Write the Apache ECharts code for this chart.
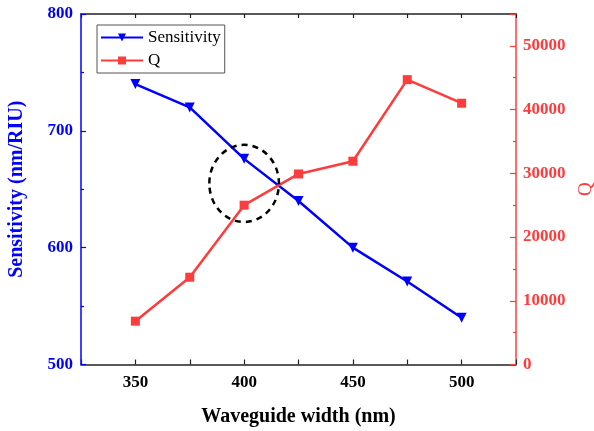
<!DOCTYPE html>
<html><head><meta charset="utf-8">
<script src="https://cdn.jsdelivr.net/npm/echarts@6/dist/echarts.min.js"></script>
<style>html,body{margin:0;padding:0;background:#fff}#c{width:594px;height:431px}</style>
</head><body><div id="c"></div>
<script>
const widths = [350, 375, 400, 425, 450, 475, 500];
const sensitivity = [740, 720, 676, 640, 600, 571, 540];
const qValues = [6800, 13700, 25000, 29900, 31900, 44700, 41000];
const highlight = [[400, 655]]; // dashed circle centre (width, sensitivity)

const serif = '"Liberation Serif", "DejaVu Serif", serif';
const blue = '#0000ff', red = '#ff3c3c';

const chart = echarts.init(document.getElementById('c'));
chart.setOption({
  animation: false,
  grid: {left: 81, right: 78, top: 14, bottom: 66.5, containLabel: false, outerBoundsMode: 'none'},
  legend: {
    left: 97, top: 25, orient: 'vertical',
    itemWidth: 42, itemHeight: 10, itemGap: 6,
    padding: [4, 4, 4, 3],
    borderColor: '#555', borderWidth: 1,
    textStyle: {fontFamily: serif, fontSize: 17, color: '#000'},
    data: ['Sensitivity', 'Q']
  },
  xAxis: [{
    type: 'value', min: 325, max: 525, interval: 25,
    name: 'Waveguide width (nm)', nameLocation: 'middle', nameGap: 42,
    nameTextStyle: {fontFamily: serif, fontSize: 20, fontWeight: 'bold', color: '#000'},
    axisLine: {lineStyle: {color: '#222', width: 1.5}},
    axisTick: {inside: true, length: 5, lineStyle: {color: '#222', width: 1.2}},
    axisLabel: {margin: 10, fontFamily: serif, fontSize: 17, fontWeight: 'bold', color: '#000',
      formatter: v => (v % 50 === 0 ? String(v) : '')},
    splitLine: {show: false}
  }, {
    type: 'value', position: 'top', min: 325, max: 525, interval: 25,
    axisLine: {lineStyle: {color: '#222', width: 1.5}},
    axisTick: {inside: true, length: 4, lineStyle: {color: '#222', width: 1.2}},
    axisLabel: {show: false}, splitLine: {show: false}
  }],
  yAxis: [{
    type: 'value', min: 500, max: 800, interval: 100, position: 'left',
    name: 'Sensitivity (nm/RIU)', nameLocation: 'middle', nameGap: 54,
    nameTextStyle: {fontFamily: serif, fontSize: 20, fontWeight: 'bold', color: blue},
    axisLine: {show: true, lineStyle: {color: blue, width: 1.5}},
    axisTick: {inside: true, length: 5, lineStyle: {color: blue, width: 1.2}},
    minorTick: {show: true, splitNumber: 2, length: 3, lineStyle: {color: blue, width: 1.2}},
    axisLabel: {margin: 8, fontFamily: serif, fontSize: 17, fontWeight: 'bold', color: blue},
    splitLine: {show: false}
  }, {
    type: 'value', min: 0, max: 55000, interval: 10000, position: 'right',
    name: 'Q', nameLocation: 'middle', nameGap: 61,
    nameTextStyle: {fontFamily: serif, fontSize: 19, color: red},
    axisLine: {show: true, lineStyle: {color: red, width: 1.5}},
    axisTick: {inside: true, length: 6, lineStyle: {color: red, width: 1.2}},
    minorTick: {show: true, splitNumber: 2, length: 3, lineStyle: {color: red, width: 1.2}},
    axisLabel: {margin: 7, fontFamily: serif, fontSize: 17, fontWeight: 'bold', color: red,
      formatter: v => (v % 10000 === 0 ? String(v) : '')},
    splitLine: {show: false}
  }],
  series: [{
    name: 'Sensitivity', type: 'line', yAxisIndex: 0,
    data: widths.map((w, i) => [w, sensitivity[i]]),
    symbol: 'triangle', symbolRotate: 180, symbolSize: 10,
    lineStyle: {color: blue, width: 2.5}, itemStyle: {color: blue}
  }, {
    name: 'Q', type: 'line', yAxisIndex: 1,
    data: widths.map((w, i) => [w, qValues[i]]),
    symbol: 'rect', symbolSize: 9,
    lineStyle: {color: red, width: 2.5}, itemStyle: {color: red}
  }, {
    type: 'custom', yAxisIndex: 0, silent: true, z: 5,
    data: highlight,
    renderItem: (params, api) => {
      const p = api.coord([api.value(0), api.value(1)]);
      const s = api.size([16, 33]);
      return {
        type: 'ellipse',
        shape: {cx: p[0], cy: p[1], rx: s[0], ry: s[1]},
        style: {fill: null, stroke: '#000', lineWidth: 2.5, lineDash: [6, 5]}
      };
    }
  }]
});
</script></body></html>
